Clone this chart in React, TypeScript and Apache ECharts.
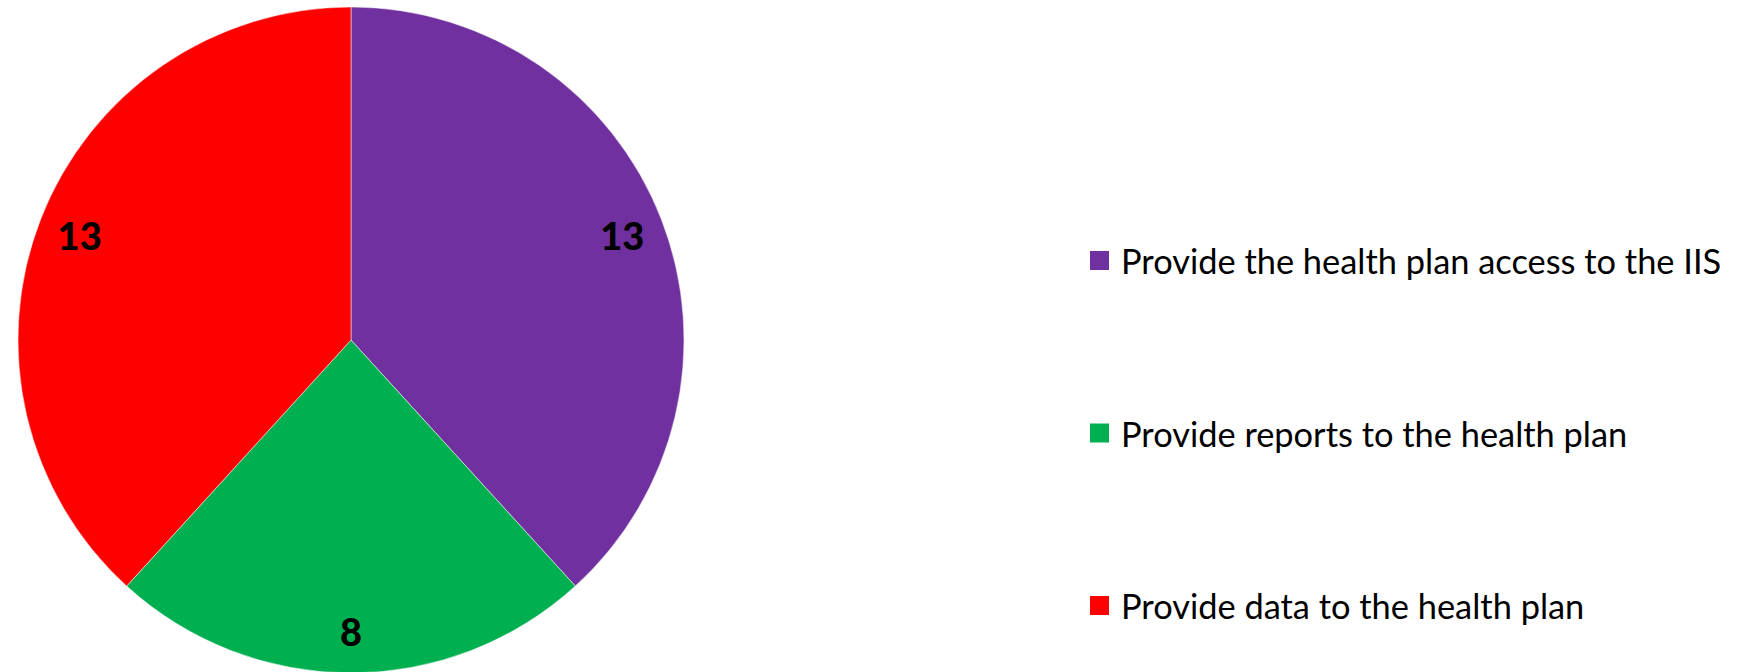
import React, { useEffect, useRef } from "react";
import * as echarts from "echarts";

const categories = [
  "Provide the health plan access to the IIS",
  "Provide reports to the health plan",
  "Provide data to the health plan",
];
const values = [13, 8, 13];
const colors = ["#7030A0", "#00B050", "#FF0000"];

export default function App() {
  const ref = useRef<HTMLDivElement>(null);
  useEffect(() => {
    document.body.style.margin = "0";
    const chart = echarts.init(ref.current!, null, { renderer: "svg" });
    const data = categories.map((name, i) => ({
      name,
      value: values[i],
      itemStyle: { color: colors[i] },
    }));
    chart.setOption({
      animation: false,
      backgroundColor: "#ffffff",
      legend: {
        orient: "vertical",
        left: 1083,
        top: 238.5,
        itemGap: 138.5,
        itemWidth: 21,
        itemHeight: 21,
        icon: "rect",
        data: categories,
        selectedMode: false,
        textStyle: {
          fontFamily: "Lato",
          fontSize: 34.4,
          lineHeight: 34,
          color: "#000000",
          padding: [0, 0, 0, 6],
        },
      },
      series: [
        {
          type: "pie",
          center: [351, 340],
          radius: 333,
          startAngle: 90,
          clockwise: true,
          silent: true,
          label: { show: false },
          labelLine: { show: false },
          itemStyle: { borderColor: "#ffffff", borderWidth: 0.5 },
          data,
        },
        {
          type: "pie",
          center: [351, 340],
          radius: [254, 322],
          startAngle: 90,
          clockwise: true,
          silent: true,
          legendHoverLink: false,
          itemStyle: { color: "transparent", opacity: 0 },
          label: {
            show: true,
            position: "inside",
            formatter: "{c}",
            color: "#000000",
            fontWeight: 900,
            fontFamily: "Lato",
            fontSize: 38,
            opacity: 1,
          },
          labelLine: { show: false },
          data: categories.map((name, i) => ({ name, value: values[i] })),
        },
      ],
    });
    return () => chart.dispose();
  }, []);
  return <div ref={ref} style={{ width: 1742, height: 672 }} />;
}
